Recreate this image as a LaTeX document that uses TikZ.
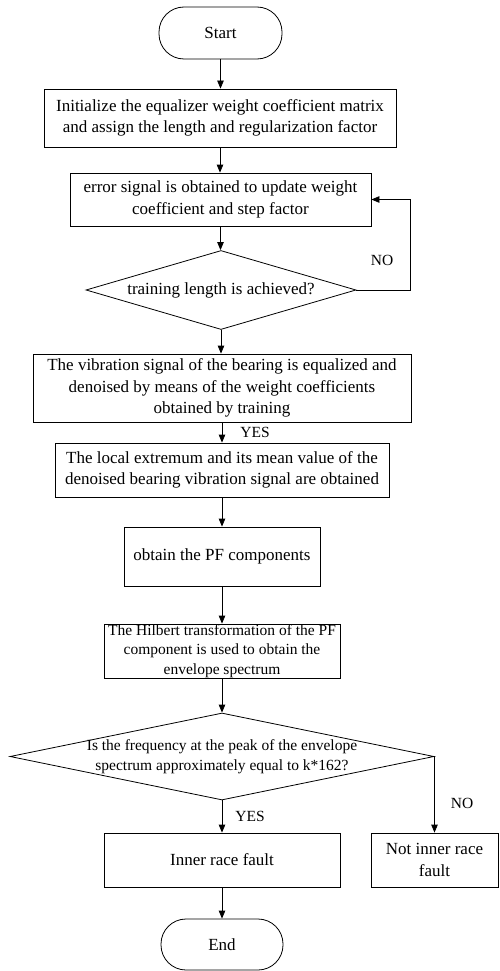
\documentclass[tikz,border=0pt]{standalone}
\usepackage{fontspec}
\setmainfont{Liberation Serif}
\usetikzlibrary{arrows.meta,shapes.geometric}
\begin{document}
\begin{tikzpicture}[x=1pt,y=-1pt,
  line width=0.8pt,
  bigfont/.style={font=\fontsize{17}{21.5}\selectfont},
  smallfont/.style={font=\fontsize{15.5}{19.5}\selectfont},
  lblfont/.style={font=\fontsize{15.5}{18}\selectfont},
  procbox/.style={draw, rectangle, inner sep=0pt, align=center, bigfont},
  termbox/.style={draw, rectangle, rounded corners=25pt, inner sep=0pt, align=center, bigfont},
  decbox/.style={draw, diamond, inner sep=0pt},
  arr/.style={-{Triangle[length=8pt,width=6.5pt]}},
  lbl/.style={inner sep=0pt, lblfont}]
\useasboundingbox (0,0) rectangle (499,971);
\node[termbox, minimum width=123pt, minimum height=52pt] (start) at (220.5,33) {Start};
\node[procbox, minimum width=352pt, minimum height=58pt] (b1) at (220,118)
  {Initialize the equalizer weight coefficient matrix\\and assign the length and regularization factor};
\node[procbox, minimum width=301pt, minimum height=53pt] (b2) at (220.5,199.5)
  {error signal is obtained to update weight\\coefficient and step factor};
\node[decbox, minimum width=270pt, minimum height=79pt] (d1) at (221,290) {};
\node[bigfont, inner sep=0pt] (d1t) at (d1.center) {training length is achieved?};
\node[procbox, minimum width=378pt, minimum height=68pt] (b3) at (222,388)
  {The vibration signal of the bearing is equalized and\\denoised by means of the weight coefficients\\obtained by training};
\node[procbox, minimum width=334pt, minimum height=54pt] (b4) at (222,470)
  {The local extremum and its mean value of the\\denoised bearing vibration signal are obtained};
\node[procbox, minimum width=196pt, minimum height=59pt] (b5) at (222,556.5)
  {obtain the PF components};
\node[procbox, smallfont, minimum width=236pt, minimum height=54pt] (b6) at (222,651)
  {The Hilbert transformation of the PF\\component is used to obtain the\\envelope spectrum};
\node[decbox, minimum width=424pt, minimum height=87pt] (d2) at (222,756.5) {};
\node[smallfont, align=center, inner sep=0pt] (d2t) at (d2.center)
  {Is the frequency at the peak of the envelope\\spectrum approximately equal to k*162?};
\node[procbox, minimum width=236pt, minimum height=54pt] (b7) at (222,860) {Inner race fault};
\node[procbox, minimum width=127pt, minimum height=54pt] (b8) at (434.5,860) {Not inner race\\fault};
\node[termbox, minimum width=122pt, minimum height=51pt] (end) at (222,944.5) {End};
\coordinate (fb) at (410.5,290);
\draw[arr] (start.south) -- (start.south |- b1.north);
\draw[arr] (b1.south) -- (b1.south |- b2.north);
\draw[arr] (b2.south) -- (b2.south |- d1.north);
\draw[arr] (d1.east) -- (fb) |- (b2.east);
\draw[arr] (d1.south) -- (d1.south |- b3.north);
\draw[arr] (b3.south) -- (b3.south |- b4.north);
\draw[arr] (b4.south) -- (b4.south |- b5.north);
\draw[arr] (b5.south) -- (b5.south |- b6.north);
\draw[arr] (b6.south) -- (b6.south |- d2.north);
\draw[arr] (d2.south) -- (d2.south |- b7.north);
\draw[arr] (d2.east) -| (b8.north);
\draw[arr] (b7.south) -- (b7.south |- end.north);
\node[lbl] (no1) at (382,260) {NO};
\node[lbl] (yes1) at (255,432) {YES};
\node[lbl] (yes2) at (250,816) {YES};
\node[lbl] (no2) at (462,803) {NO};
\end{tikzpicture}
\end{document}
